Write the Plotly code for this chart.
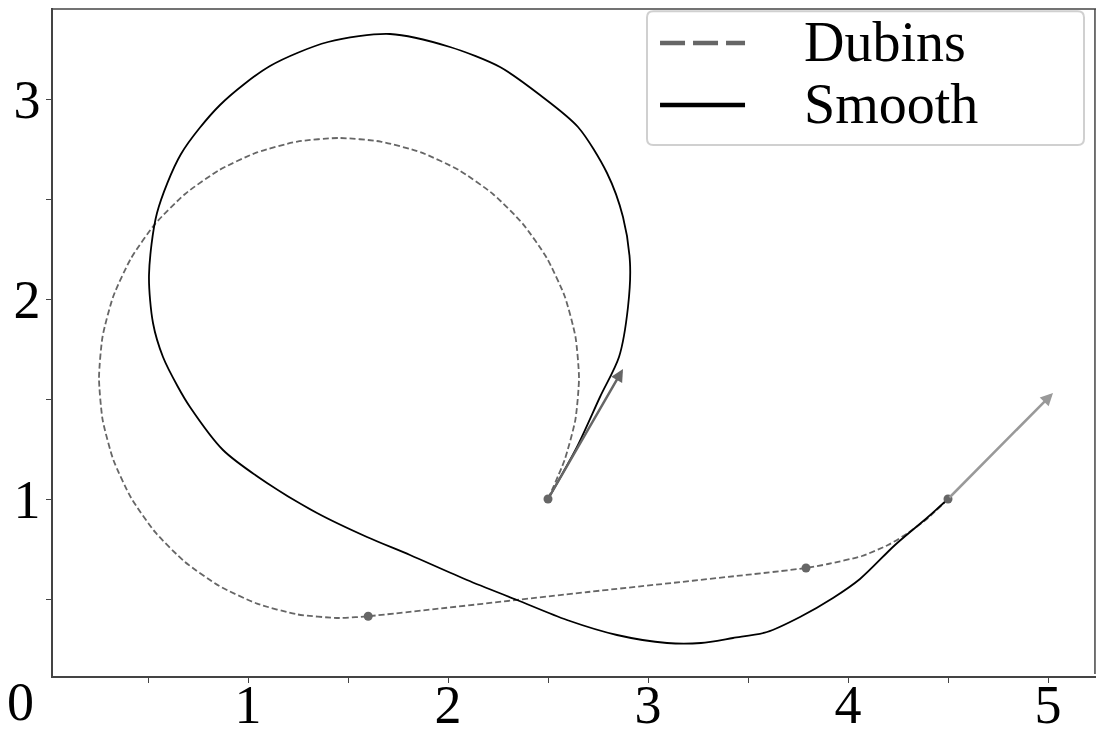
import plotly.graph_objects as go

# ---- data ----
dubins_x = [2.50, 2.583, 2.637, 2.655, 2.637, 2.583, 2.494, 2.374, 2.226, 2.055, 1.865, 1.663,
            1.455, 1.247, 1.045, 0.855, 0.684, 0.536, 0.416, 0.327, 0.273, 0.255, 0.273, 0.327,
            0.416, 0.536, 0.684, 0.855, 1.045, 1.247, 1.455, 1.601,
            2.70, 3.79, 3.90, 4.07, 4.20, 4.30, 4.40, 4.50]
dubins_y = [1.00, 1.195, 1.397, 1.605, 1.813, 2.015, 2.205, 2.376, 2.524, 2.644, 2.733, 2.787,
            2.805, 2.787, 2.733, 2.644, 2.524, 2.376, 2.205, 2.015, 1.813, 1.605, 1.397, 1.195,
            1.005, 0.834, 0.686, 0.566, 0.477, 0.423, 0.405, 0.414,
            0.535, 0.655, 0.675, 0.715, 0.77, 0.83, 0.905, 1.00]

smooth_x = [2.50, 2.645, 2.76, 2.855, 2.90, 2.91, 2.875, 2.795, 2.65, 2.46, 2.26, 2.01, 1.71,
            1.40, 1.11, 0.86, 0.665, 0.545, 0.505, 0.525, 0.575, 0.65, 0.71,
            0.875, 1.095, 1.345, 1.595, 1.81, 2.095, 2.345, 2.595, 2.845, 3.095, 3.265, 3.425,
            3.595, 3.76, 3.925, 4.06, 4.235, 4.40, 4.50]
smooth_y = [1.00, 1.26, 1.51, 1.71, 1.96, 2.18, 2.41, 2.63, 2.86, 3.02, 3.16, 3.26, 3.325,
            3.285, 3.165, 2.97, 2.725, 2.43, 2.12, 1.88, 1.71, 1.56, 1.46,
            1.245, 1.08, 0.93, 0.81, 0.72, 0.595, 0.495, 0.395, 0.32, 0.28, 0.28, 0.305,
            0.335, 0.41, 0.505, 0.60, 0.77, 0.91, 1.00]

waypoint_x = [2.50, 1.601, 3.79, 4.50]
waypoint_y = [1.00, 0.414, 0.655, 1.00]

# heading arrows
arrow_start_x = [2.50, 4.50]
arrow_start_y = [1.00, 1.00]
arrow_tip_x = [2.875, 5.025]
arrow_tip_y = [1.65, 1.53]
arrow_colors = ["#666666", "#999999"]

x_ticks = [1, 2, 3, 4, 5]
y_ticks = [1, 2, 3]
legend_names = ["Dubins", "Smooth"]

FONT = "Liberation Serif, Times New Roman, serif"
DUB_COLOR = "#666666"
SM_COLOR = "#000000"
AX_COLOR = "#444444"

fig = go.Figure()

fig.add_trace(go.Scatter(x=dubins_x, y=dubins_y, mode="lines", name=legend_names[0],
                         line=dict(color=DUB_COLOR, width=1.8, dash="6px,3px",
                                   shape="spline", smoothing=0.6),
                         showlegend=False, hoverinfo="skip"))
fig.add_trace(go.Scatter(x=smooth_x, y=smooth_y, mode="lines", name=legend_names[1],
                         line=dict(color=SM_COLOR, width=1.8, shape="spline", smoothing=0.8),
                         showlegend=False, hoverinfo="skip"))
fig.add_trace(go.Scatter(x=waypoint_x, y=waypoint_y, mode="markers",
                         marker=dict(color=DUB_COLOR, size=9),
                         showlegend=False, hoverinfo="skip"))

for sx, sy, tx, ty, c in zip(arrow_start_x, arrow_start_y, arrow_tip_x, arrow_tip_y, arrow_colors):
    fig.add_annotation(x=tx, y=ty, ax=sx, ay=sy, xref="x", yref="y", axref="x", ayref="y",
                       text="", showarrow=True, arrowhead=2, arrowsize=1,
                       arrowwidth=2.5, arrowcolor=c)

# "0" label at the lower-left corner
fig.add_annotation(x=-0.0307, y=-0.039, xref="paper", yref="paper", text="0",
                   showarrow=False, xanchor="center", yanchor="middle",
                   font=dict(family=FONT, size=54, color="black"))

# top and right frame lines
fig.add_shape(type="line", xref="paper", yref="paper", layer="above",
              x0=0, x1=1, y0=0.9985, y1=0.9985, line=dict(color=AX_COLOR, width=1.5))
fig.add_shape(type="line", xref="paper", yref="paper", layer="above",
              x0=0.999, x1=0.999, y0=0.003, y1=0.9985, line=dict(color=AX_COLOR, width=1.5))

# ---- legend box (drawn in paper coordinates) ----
lx0, lx1, ly0, ly1, rad = 0.5695, 0.9885, 0.7949, 0.995, 0.006
ry = rad * 1043 / 668
fig.add_shape(type="path", xref="paper", yref="paper", layer="above",
              path=(f"M {lx0+rad},{ly1} L {lx1-rad},{ly1} Q {lx1},{ly1} {lx1},{ly1-ry} "
                    f"L {lx1},{ly0+ry} Q {lx1},{ly0} {lx1-rad},{ly0} "
                    f"L {lx0+rad},{ly0} Q {lx0},{ly0} {lx0},{ly0+ry} "
                    f"L {lx0},{ly1-ry} Q {lx0},{ly1} {lx0+rad},{ly1} Z"),
              fillcolor="white", line=dict(color="#d0d0d0", width=2))
row_y = [0.9476, 0.8548]
sample_styles = [dict(color=DUB_COLOR, width=4.5, dash="25px,8px"),
                 dict(color=SM_COLOR, width=4.5)]
for ry_, sty, name in zip(row_y, sample_styles, legend_names):
    fig.add_shape(type="line", xref="paper", yref="paper", layer="above",
                  x0=0.5820, x1=0.6635, y0=ry_, y1=ry_, line=sty)
    fig.add_annotation(x=0.7177, y=ry_ + 0.002, xref="paper", yref="paper", text=name,
                       showarrow=False, xanchor="left", yanchor="middle",
                       font=dict(family=FONT, size=56, color="black"))

axis_common = dict(showgrid=False, zeroline=False, showline=True, linecolor=AX_COLOR,
                   linewidth=1.5, mirror=False, ticks="outside", ticklen=5, tickwidth=1.2,
                   tickcolor=AX_COLOR, automargin=False,
                   tickfont=dict(family=FONT, size=54, color="black"))

fig.update_xaxes(range=[0.025, 5.24], tickvals=x_ticks, ticktext=[str(v) for v in x_ticks],
                 minor=dict(dtick=0.5, tick0=0, ticks="outside", ticklen=5, tickwidth=1.2,
                            tickcolor=AX_COLOR),
                 ticklabelstandoff=-25, **axis_common)
fig.update_yaxes(range=[0.115, 3.455], tickvals=y_ticks, ticktext=[str(v) for v in y_ticks],
                 minor=dict(dtick=0.5, tick0=0, ticks="outside", ticklen=5, tickwidth=1.2,
                            tickcolor=AX_COLOR),
                 ticklabelstandoff=-5, **axis_common)

# the page body adds an 8px margin on every side, so the figure is 16px smaller than the window
fig.update_layout(
    width=1089, height=728,
    margin=dict(l=45, r=1, t=0, b=60),
    paper_bgcolor="white", plot_bgcolor="white",
    font=dict(family=FONT, color="black"),
    showlegend=False,
)

fig.write_html("out.html")
